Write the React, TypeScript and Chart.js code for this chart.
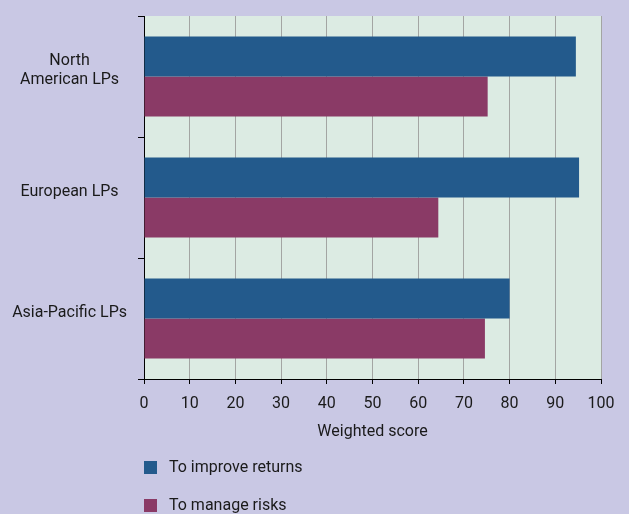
import React, { useEffect, useRef } from "react";
import { Chart, registerables } from "chart.js";

Chart.register(...registerables);

const categories: (string | string[])[] = [["North", "American LPs"], "European LPs", "Asia-Pacific LPs"];
const seriesNames = ["To improve returns", "To manage risks"];
const improveReturns = [94.5, 95.2, 80.0];
const manageRisks = [75.2, 64.4, 74.6];
const xMin = 0;
const xMax = 100;
const xStep = 10;
const xTitle = "Weighted score";

const FONT = "'Roboto', sans-serif";
const FS = 16;
const PAGE_BG = "#c9c8e4";
const PLOT_BG = "#dcebe3";
const BLUE = "#235a8c";
const MAROON = "#8a3a66";
const TEXT = "#1a1a1a";

const plotBg = {
  id: "plotBg",
  beforeDraw(chart: any) {
    const { ctx, chartArea } = chart;
    ctx.save();
    ctx.fillStyle = PLOT_BG;
    ctx.fillRect(chartArea.left, chartArea.top, chartArea.right - chartArea.left, chartArea.bottom - chartArea.top);
    ctx.restore();
  },
};

const sideLegend = {
  id: "sideLegend",
  afterDraw(chart: any) {
    const { ctx, chartArea } = chart;
    ctx.save();
    chart.data.datasets.forEach((ds: any, i: number) => {
      const y = chartArea.bottom + 82 + i * 38;
      ctx.fillStyle = ds.backgroundColor;
      ctx.fillRect(chartArea.left, y, 13, 13);
      ctx.fillStyle = TEXT;
      ctx.font = `${FS}px ${FONT}`;
      ctx.textBaseline = "middle";
      ctx.textAlign = "left";
      ctx.fillText(ds.label, chartArea.left + 25, y + 7);
    });
    ctx.restore();
  },
};

export default function App() {
  const ref = useRef<HTMLCanvasElement | null>(null);

  useEffect(() => {
    document.body.style.margin = "0";
    document.body.style.background = PAGE_BG;
    if (!ref.current) return;
    const chart = new Chart(ref.current, {
      type: "bar",
      data: {
        labels: categories as any,
        datasets: [
          { label: seriesNames[0], data: improveReturns, backgroundColor: BLUE, borderWidth: 0 },
          { label: seriesNames[1], data: manageRisks, backgroundColor: MAROON, borderWidth: 0 },
        ],
      },
      options: {
        indexAxis: "y",
        animation: false,
        responsive: true,
        maintainAspectRatio: false,
        layout: { padding: { top: 16, right: 28, bottom: 65, left: 0 } },
        datasets: { bar: { categoryPercentage: 0.66, barPercentage: 1 } },
        plugins: {
          legend: { display: false },
          tooltip: { enabled: false },
        },
        scales: {
          x: {
            min: xMin,
            max: xMax,
            ticks: { stepSize: xStep, color: TEXT, font: { family: FONT, size: FS }, padding: 10 },
            grid: { color: "#a3a5a3", lineWidth: 1, tickColor: "#000", tickLength: 5 },
            border: { color: "#000", width: 1 },
            title: { display: true, text: xTitle, color: TEXT, font: { family: FONT, size: FS }, padding: { top: 0, bottom: 7 } },
            afterFit(scale: any) {
              scale.height = 70;
              scale.paddingLeft = 0;
              scale.paddingRight = 0;
            },
          },
          y: {
            ticks: { color: TEXT, font: { family: FONT, size: FS }, crossAlign: "center", padding: 11, labelOffset: -6 },
            grid: { drawOnChartArea: false, color: "#000", tickColor: "#000", tickLength: 6, offset: true },
            border: { color: "#000", width: 1 },
            afterFit(scale: any) {
              scale.width = 144;
              scale.paddingTop = 0;
              scale.paddingBottom = 0;
            },
          },
        },
      },
      plugins: [plotBg, sideLegend],
    });
    return () => chart.destroy();
  }, []);

  return (
    <div style={{ width: 629, height: 514, position: "relative", background: PAGE_BG }}>
      <canvas ref={ref} />
    </div>
  );
}
